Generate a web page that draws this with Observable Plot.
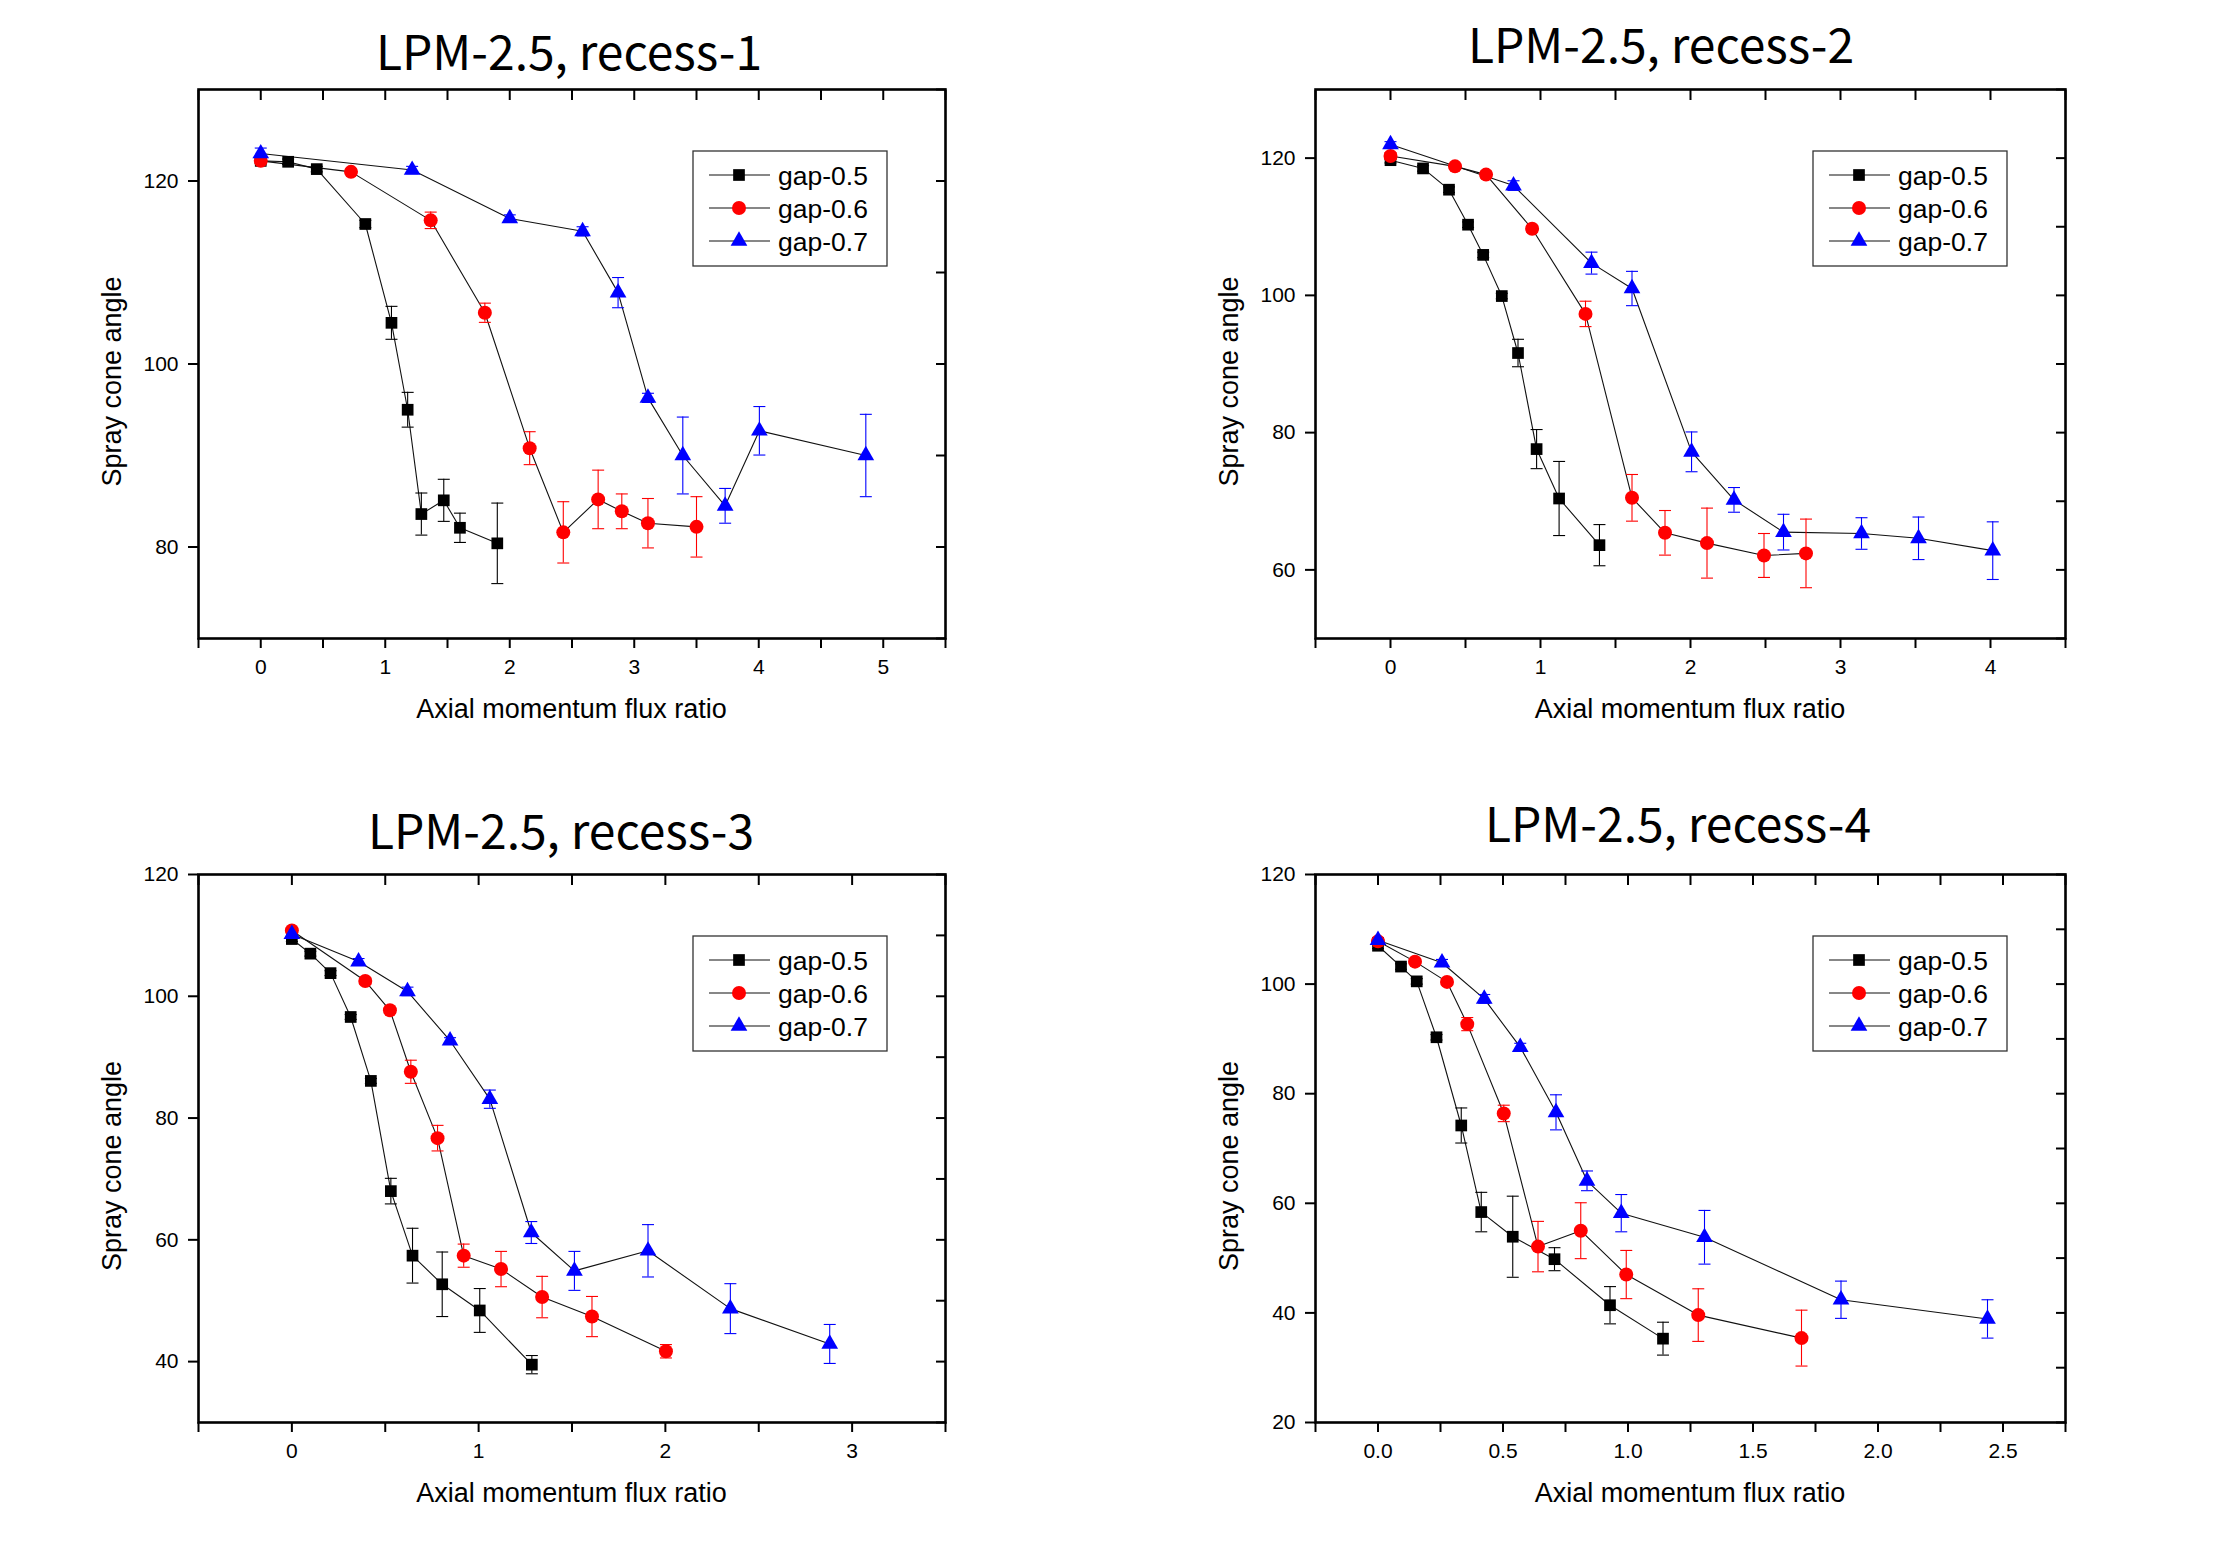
<!DOCTYPE html>
<html><head><meta charset="utf-8">
<script src="https://cdn.jsdelivr.net/npm/d3@7"></script>
<script src="https://cdn.jsdelivr.net/npm/@observablehq/plot@0.6"></script>
<style>
html,body{margin:0;padding:0;background:#fff;}
#root{position:relative;width:2218px;height:1551px;background:#fff;overflow:hidden;}
#root > .panel{position:absolute;}
#overlay{position:absolute;left:0;top:0;pointer-events:none;}
</style></head><body><div id="root"></div>
<script>
// ---------- DATA ----------
const seriesNames = ["gap-0.5", "gap-0.6", "gap-0.7"];
const titles = ["LPM-2.5, recess-1", "LPM-2.5, recess-2", "LPM-2.5, recess-3", "LPM-2.5, recess-4"];
const xLabelText = "Axial momentum flux ratio";
const yLabelText = "Spray cone angle";

// recess-1
const r1_g5_x = [0, 0.22, 0.45, 0.84, 1.05, 1.18, 1.29, 1.47, 1.60, 1.90];
const r1_g5_y = [122.2, 122.1, 121.3, 115.3, 104.5, 95.0, 83.6, 85.1, 82.1, 80.4];
const r1_g5_e = [0.3, 0.3, 0.3, 0.4, 1.8, 1.9, 2.3, 2.3, 1.6, 4.4];
const r1_g6_x = [0, 0.725, 1.365, 1.80, 2.16, 2.43, 2.71, 2.90, 3.11, 3.50];
const r1_g6_y = [122.2, 121.0, 115.7, 105.6, 90.8, 81.6, 85.2, 83.9, 82.6, 82.2];
const r1_g6_e = [0.3, 0.3, 0.9, 1.05, 1.8, 3.35, 3.2, 1.9, 2.7, 3.3];
const r1_g7_x = [0, 1.216, 2.0, 2.585, 2.87, 3.11, 3.39, 3.73, 4.005, 4.86];
const r1_g7_y = [123.0, 121.2, 115.9, 114.5, 107.8, 96.3, 90.0, 84.5, 92.7, 90.0];
const r1_g7_e = [0.6, 0.4, 0.4, 0.5, 1.65, 0.5, 4.2, 1.9, 2.65, 4.5];

// recess-2
const r2_g5_x = [0, 0.217, 0.39, 0.517, 0.618, 0.742, 0.85, 0.974, 1.124, 1.393];
const r2_g5_y = [119.7, 118.5, 115.4, 110.3, 105.9, 99.9, 91.6, 77.6, 70.4, 63.6];
const r2_g5_e = [0.4, 0.4, 0.4, 0.4, 0.4, 0.4, 2.0, 2.85, 5.4, 3.0];
const r2_g6_x = [0, 0.43, 0.637, 0.944, 1.30, 1.61, 1.83, 2.11, 2.49, 2.77];
const r2_g6_y = [120.3, 118.8, 117.6, 109.7, 97.3, 70.5, 65.4, 63.9, 62.1, 62.4];
const r2_g6_e = [0.5, 0.4, 0.5, 0.5, 1.85, 3.4, 3.25, 5.1, 3.2, 5.0];
const r2_g7_x = [0, 0.82, 1.34, 1.61, 2.007, 2.29, 2.62, 3.14, 3.52, 4.015];
const r2_g7_y = [122.0, 116.0, 104.7, 101.0, 77.2, 70.2, 65.5, 65.3, 64.6, 62.8];
const r2_g7_e = [0.4, 0.7, 1.6, 2.5, 2.9, 1.8, 2.6, 2.3, 3.1, 4.2];

// recess-3
const r3_g5_x = [0, 0.099, 0.207, 0.315, 0.423, 0.53, 0.646, 0.805, 1.006, 1.285];
const r3_g5_y = [109.4, 107.0, 103.8, 96.6, 86.1, 68.0, 57.4, 52.7, 48.4, 39.5];
const r3_g5_e = [0.4, 0.4, 0.4, 0.4, 0.4, 2.1, 4.5, 5.3, 3.6, 1.5];
const r3_g6_x = [0, 0.393, 0.525, 0.637, 0.78, 0.92, 1.12, 1.34, 1.607, 2.003];
const r3_g6_y = [110.8, 102.5, 97.7, 87.6, 76.7, 57.4, 55.2, 50.6, 47.4, 41.7];
const r3_g6_e = [0.4, 0.5, 0.5, 1.9, 2.1, 1.9, 2.9, 3.4, 3.3, 1.1];
const r3_g7_x = [0, 0.357, 0.619, 0.847, 1.06, 1.282, 1.513, 1.907, 2.348, 2.88];
const r3_g7_y = [110.2, 105.7, 100.8, 92.7, 83.1, 61.2, 54.9, 58.2, 48.7, 42.9];
const r3_g7_e = [0.4, 0.5, 0.7, 0.5, 1.5, 1.8, 3.2, 4.3, 4.1, 3.2];

// recess-4
const r4_g5_x = [0, 0.092, 0.155, 0.234, 0.333, 0.413, 0.539, 0.706, 0.928, 1.14];
const r4_g5_y = [107.0, 103.2, 100.5, 90.3, 74.2, 58.4, 53.9, 49.8, 41.4, 35.3];
const r4_g5_e = [0.5, 0.5, 0.5, 0.5, 3.2, 3.6, 7.4, 2.1, 3.4, 3.0];
const r4_g6_x = [0, 0.148, 0.276, 0.357, 0.503, 0.64, 0.811, 0.993, 1.281, 1.694];
const r4_g6_y = [107.8, 104.1, 100.4, 92.7, 76.4, 52.1, 55.0, 47.0, 39.6, 35.4];
const r4_g6_e = [0.5, 0.5, 0.5, 1.2, 1.5, 4.6, 5.1, 4.4, 4.8, 5.1];
const r4_g7_x = [0, 0.256, 0.425, 0.569, 0.712, 0.836, 0.973, 1.306, 1.852, 2.438];
const r4_g7_y = [108.0, 103.9, 97.3, 88.5, 76.6, 64.1, 58.2, 53.8, 42.4, 38.9];
const r4_g7_e = [0.5, 0.6, 0.8, 0.7, 3.2, 1.8, 3.4, 4.9, 3.4, 3.5];

// axis domains and ticks
const xDomains = [[-0.5, 5.5], [-0.5, 4.5], [-0.5, 3.5], [-0.25, 2.75]];
const yDomains = [[70, 130], [50, 130], [30, 120], [20, 120]];
const xTickLabels = [[0, 1, 2, 3, 4, 5], [0, 1, 2, 3, 4], [0, 1, 2, 3], [0, 0.5, 1.0, 1.5, 2.0, 2.5]];
const xMinorSteps = [0.5, 0.5, 0.5, 0.25];
const yTickLabels = [[80, 100, 120], [60, 80, 100, 120], [40, 60, 80, 100, 120], [20, 40, 60, 80, 100, 120]];
const yMinorStep = 10;

// ---------- STYLE / LAYOUT ----------
const colors = ["#000000", "#ff0000", "#0000ff"];
const symbolNames = ["square", "circle", "triangle"];
const symbolR = [6.6, 7, 6.2];
const layout = [
  {L: 198, R: 945, T: 89, B: 638, titleX: 569, titleY: 70, xFmt: d3.format("d")},
  {L: 1315, R: 2065, T: 89, B: 638, titleX: 1661, titleY: 63, xFmt: d3.format("d")},
  {L: 198, R: 945, T: 874, B: 1422, titleX: 561, titleY: 849, xFmt: d3.format("d")},
  {L: 1315, R: 2065, T: 874, B: 1422, titleX: 1678, titleY: 842, xFmt: d3.format(".1f")}
];
const panelData = [
  [[r1_g5_x, r1_g5_y, r1_g5_e], [r1_g6_x, r1_g6_y, r1_g6_e], [r1_g7_x, r1_g7_y, r1_g7_e]],
  [[r2_g5_x, r2_g5_y, r2_g5_e], [r2_g6_x, r2_g6_y, r2_g6_e], [r2_g7_x, r2_g7_y, r2_g7_e]],
  [[r3_g5_x, r3_g5_y, r3_g5_e], [r3_g6_x, r3_g6_y, r3_g6_e], [r3_g7_x, r3_g7_y, r3_g7_e]],
  [[r4_g5_x, r4_g5_y, r4_g5_e], [r4_g6_x, r4_g6_y, r4_g6_e], [r4_g7_x, r4_g7_y, r4_g7_e]]
];

const capSymbol = {
  draw(context, size) {
    const r = Math.sqrt(size / Math.PI);
    context.moveTo(-r, 0);
    context.lineTo(r, 0);
  }
};

function range(a, b, step) {
  const out = [];
  const n = Math.round((b - a) / step);
  for (let i = 0; i <= n; i++) out.push(+(a + i * step).toFixed(6));
  return out;
}

const root = document.getElementById("root");
const mL = 110, mR = 15, mT = 15, mB = 60;

layout.forEach((cfg, p) => {
  const rows = [];
  panelData[p].forEach((s, i) => {
    s[0].forEach((x, j) => rows.push({series: seriesNames[i], si: i, x, y: s[1][j], e: s[2][j]}));
  });
  const xMinor = range(xDomains[p][0], xDomains[p][1], xMinorSteps[p]);
  const yMinor = range(yDomains[p][0], yDomains[p][1], yMinorStep);
  const marks = [];
  marks.push(Plot.line(rows, {x: "x", y: "y", z: "series", stroke: "#111", strokeWidth: 1.1}));
  seriesNames.forEach((s, i) => {
    const d = rows.filter(r => r.si === i);
    marks.push(Plot.ruleX(d, {x: "x", y1: r => r.y - r.e, y2: r => r.y + r.e, stroke: colors[i], strokeWidth: 1.1}));
    marks.push(Plot.dot(d, {x: "x", y: r => r.y + r.e, symbol: capSymbol, r: 6, stroke: colors[i], strokeWidth: 1.1, fill: "none"}));
    marks.push(Plot.dot(d, {x: "x", y: r => r.y - r.e, symbol: capSymbol, r: 6, stroke: colors[i], strokeWidth: 1.1, fill: "none"}));
  });
  seriesNames.forEach((s, i) => {
    const d = rows.filter(r => r.si === i);
    marks.push(Plot.dot(d, {x: "x", y: "y", symbol: symbolNames[i], r: symbolR[i], fill: colors[i], stroke: "none"}));
  });
  marks.push(
    Plot.axisX(xMinor, {anchor: "bottom", tickSize: 10, strokeWidth: 2, fill: "none", label: null}),
    Plot.axisX(xMinor, {anchor: "top", tickSize: 10, dy: 10, strokeWidth: 2, fill: "none", label: null}),
    Plot.axisX(xTickLabels[p], {anchor: "bottom", tickSize: 0, tickPadding: 21, tickFormat: cfg.xFmt, label: null, fill: "#000"}),
    Plot.axisY(yTickLabels[p], {anchor: "left", tickSize: 10, strokeWidth: 2, fill: "none", label: null}),
    Plot.axisY(yTickLabels[p], {anchor: "left", tickSize: 0, tickPadding: 20, label: null, fill: "#000"}),
    Plot.axisY(yMinor, {anchor: "right", tickSize: 10, dx: -10, strokeWidth: 2, fill: "none", label: null}),
    Plot.frame({stroke: "#000", strokeWidth: 2.6})
  );
  const w = cfg.R - cfg.L, h = cfg.B - cfg.T;
  const svg = Plot.plot({
    width: mL + w + mR,
    height: mT + h + mB,
    marginLeft: mL, marginRight: mR, marginTop: mT, marginBottom: mB,
    x: {domain: xDomains[p]},
    y: {domain: yDomains[p]},
    style: {fontFamily: "'Liberation Sans', Arial, sans-serif", fontSize: "21px", background: "transparent", color: "#000", overflow: "visible"},
    marks
  });
  svg.classList.add("panel");
  svg.style.left = (cfg.L - mL) + "px";
  svg.style.top = (cfg.T - mT) + "px";
  root.appendChild(svg);
});

// ---------- overlay: titles, axis labels, legends ----------
const ov = d3.select(root).append("svg").attr("id", "overlay").attr("width", 2218).attr("height", 1551);
layout.forEach((cfg, p) => {
  ov.append("text").attr("x", cfg.titleX).attr("y", cfg.titleY).attr("text-anchor", "middle")
    .attr("font-family", "'Noto Sans CJK KR', 'Noto Sans', sans-serif").attr("font-size", 48).attr("fill", "#000")
    .text(titles[p]);
  ov.append("text").attr("x", (cfg.L + cfg.R) / 2).attr("y", cfg.B + 80).attr("text-anchor", "middle")
    .attr("font-family", "'Liberation Sans', Arial, sans-serif").attr("font-size", 27).attr("fill", "#000")
    .text(xLabelText);
  const cy = (cfg.T + cfg.B) / 2 + 18, bx = cfg.L - 77;
  ov.append("text").attr("transform", `translate(${bx},${cy}) rotate(-90)`).attr("text-anchor", "middle")
    .attr("font-family", "'Liberation Sans', Arial, sans-serif").attr("font-size", 27).attr("fill", "#000")
    .text(yLabelText);
  const g = ov.append("g").attr("transform", `translate(${cfg.R - 252},${cfg.T + 62})`);
  g.append("rect").attr("width", 194).attr("height", 115).attr("fill", "#fff").attr("stroke", "#333").attr("stroke-width", 1.3);
  seriesNames.forEach((s, i) => {
    const ry = 24 + i * 33;
    g.append("line").attr("x1", 16).attr("x2", 77).attr("y1", ry).attr("y2", ry).attr("stroke", "#111").attr("stroke-width", 1.1);
    const sym = [d3.symbolSquare, d3.symbolCircle, d3.symbolTriangle][i];
    g.append("path").attr("transform", `translate(46,${ry})`).attr("d", d3.symbol(sym, Math.PI * symbolR[i] * symbolR[i])()).attr("fill", colors[i]);
    g.append("text").attr("x", 85).attr("y", ry + 9.5).attr("font-family", "'Liberation Sans', Arial, sans-serif")
      .attr("font-size", 26.5).attr("fill", "#000").text(s);
  });
});
</script></body></html>
